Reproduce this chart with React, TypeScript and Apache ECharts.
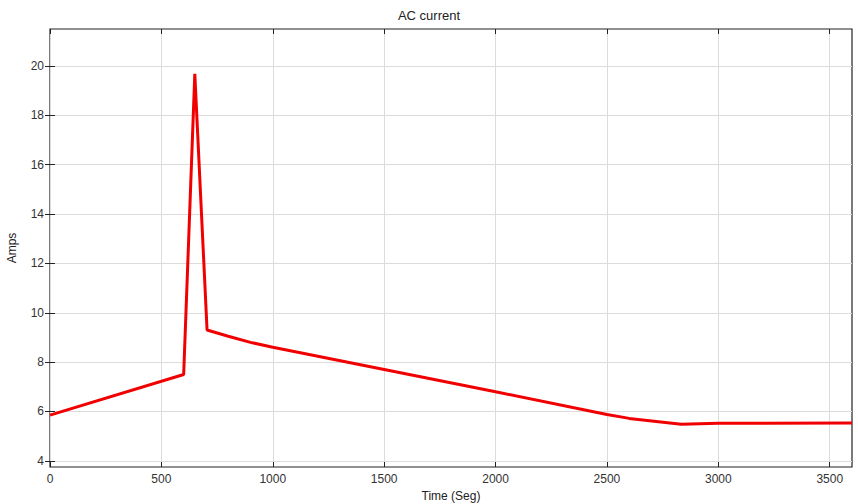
import React, { useEffect, useRef } from "react";
import * as echarts from "echarts";

const timeValues = [0, 600, 650, 705, 800, 900, 1000, 1500, 2000, 2500, 2600, 2833, 3000, 3600];
const ampValues = [5.85, 7.5, 19.68, 9.3, 9.05, 8.8, 8.6, 7.7, 6.8, 5.88, 5.72, 5.48, 5.52, 5.53];
const xTicks = [0, 500, 1000, 1500, 2000, 2500, 3000, 3500];
const yTicks = [4, 6, 8, 10, 12, 14, 16, 18, 20];

const FONT = "Liberation Sans, Arial, sans-serif";

export default function App() {
  const ref = useRef<HTMLDivElement>(null);
  useEffect(() => {
    if (!ref.current) return;
    const chart = echarts.init(ref.current, undefined, { renderer: "svg" });
    const data = timeValues.map((t, i) => [t, ampValues[i]]);
    const common = {
      axisLine: { show: false },
      splitLine: { show: false },
    };
    const fmt = (v: number) => String(v);
    chart.setOption({
      animation: false,
      backgroundColor: "#fff",
      title: {
        text: "AC current",
        left: "center",
        top: 4,
        textStyle: { fontFamily: FONT, fontSize: 13, fontWeight: "normal", color: "#222" },
      },
      grid: {
        left: 50,
        right: 6,
        top: 29,
        bottom: 37,
        containLabel: false,
        outerBoundsMode: "none",
        show: true,
        borderColor: "#222",
        borderWidth: 1.2,
        backgroundColor: "#fff",
      },
      xAxis: [
        {
          type: "value",
          min: 0,
          max: 3600,
          name: "Time (Seg)",
          nameLocation: "middle",
          nameGap: 21,
          nameTextStyle: { fontFamily: FONT, fontSize: 12, color: "#222" },
          axisLine: { show: false },
          axisTick: { show: true, inside: true, length: 5, customValues: xTicks, lineStyle: { color: "#222" } },
          axisLabel: { customValues: xTicks, formatter: fmt, margin: 6, fontFamily: FONT, fontSize: 12, color: "#333" },
          splitLine: { show: true, lineStyle: { color: "#dcdcdc", width: 1 } },
        },
        {
          type: "value",
          position: "top",
          min: 0,
          max: 3600,
          ...common,
          axisTick: { show: true, inside: true, length: 5, customValues: xTicks, lineStyle: { color: "#222" } },
          axisLabel: { show: false, customValues: xTicks },
        },
      ],
      yAxis: [
        {
          type: "value",
          min: 3.75,
          max: 21.5,
          name: "Amps",
          nameLocation: "middle",
          nameGap: 32,
          nameTextStyle: { fontFamily: FONT, fontSize: 12, color: "#222" },
          axisLine: { show: false },
          axisTick: { show: true, inside: true, length: 5, customValues: yTicks, lineStyle: { color: "#222" } },
          axisLabel: { customValues: yTicks, formatter: fmt, margin: 6, fontFamily: FONT, fontSize: 12, color: "#333" },
          splitLine: { show: true, lineStyle: { color: "#dcdcdc", width: 1 } },
        },
        {
          type: "value",
          position: "right",
          min: 3.75,
          max: 21.5,
          ...common,
          axisTick: { show: true, inside: true, length: 5, customValues: yTicks, lineStyle: { color: "#222" } },
          axisLabel: { show: false, customValues: yTicks },
        },
      ],
      series: [
        {
          type: "line",
          data,
          xAxisIndex: 0,
          yAxisIndex: 0,
          showSymbol: false,
          symbol: "none",
          lineStyle: { color: "#f00000", width: 3 },
        },
      ],
    });
    return () => chart.dispose();
  }, []);
  return <div ref={ref} style={{ position: "fixed", left: 0, top: 0, width: 858, height: 504 }} />;
}
